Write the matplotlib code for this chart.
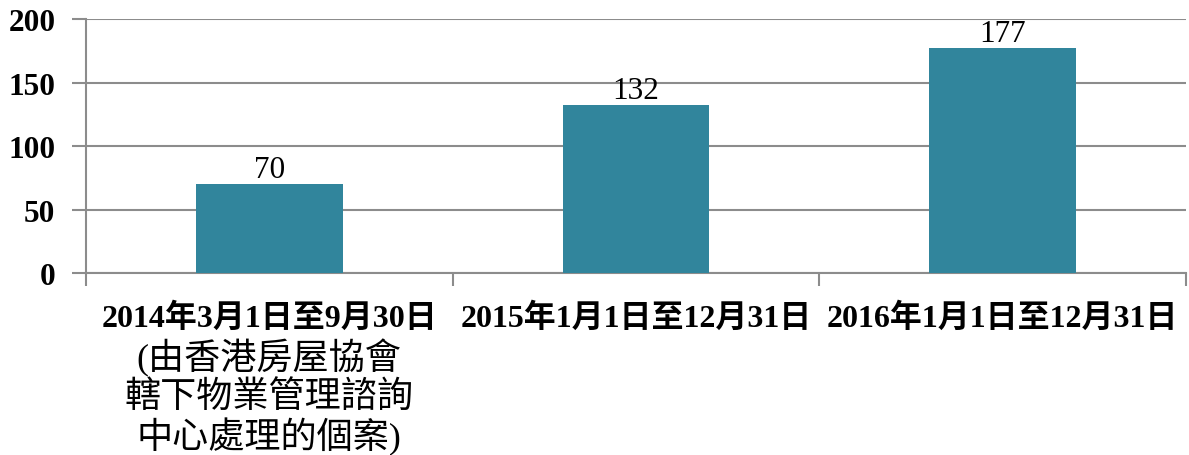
import matplotlib
matplotlib.use('Agg')
from matplotlib import pyplot as plt
import matplotlib.transforms as mtrans

plt.rcParams['font.family'] = ['Liberation Serif', 'Noto Sans CJK TC', 'DejaVu Sans']

categories = ['2014年3月1日至9月30日', '2015年1月1日至12月31日', '2016年1月1日至12月31日']
note_lines = ['(由香港房屋協會', '轄下物業管理諮詢', '中心處理的個案)']
values = [70, 132, 177]
yticks = [0, 50, 100, 150, 200]

barColor = '#31859c'
gridColor = '#8c8c8c'

fig = plt.figure(figsize=(11.89, 4.56), dpi=100)
ax = fig.add_axes([0.0723, 0.399, 0.925, 0.557])

x = list(range(len(categories)))
bars = ax.bar(x, values, width=0.4, color=barColor, zorder=3)
for b, v in zip(bars, values):
    ax.text(b.get_x() + b.get_width() / 2, v + 0.5, str(v), ha='center', va='bottom',
            fontsize=22.5, zorder=4)

ax.set_xlim(-0.5, len(categories) - 0.5)
ax.set_ylim(0, 200)
ax.set_yticks(yticks)
ax.set_yticklabels([str(t) for t in yticks], fontsize=22.5, fontweight='bold')
ax.yaxis.grid(True, color=gridColor, linewidth=1.5, zorder=0)
ax.tick_params(axis='y', length=10, width=1.5, color=gridColor, pad=12)

# boundary ticks as major, labels on minor
ax.set_xticks([i - 0.5 for i in range(len(categories) + 1)])
ax.set_xticklabels([])
ax.tick_params(axis='x', which='major', length=9, width=1.5, color=gridColor)
ax.set_xticks(x, minor=True)
ax.set_xticklabels(categories, minor=True, fontsize=23, fontweight='bold')
ax.tick_params(axis='x', which='minor', length=0, pad=21)

for s in ['top', 'right']:
    ax.spines[s].set_visible(False)
for s in ['left', 'bottom']:
    ax.spines[s].set_color(gridColor)
    ax.spines[s].set_linewidth(1.5)

trans = mtrans.blended_transform_factory(ax.transData, fig.transFigure)
for i, line in enumerate(note_lines):
    ax.text(0, 1 - (358 + i * 39.5) / 456, line, transform=trans, ha='center', va='center',
            fontsize=26)

fig.savefig('out.png')
